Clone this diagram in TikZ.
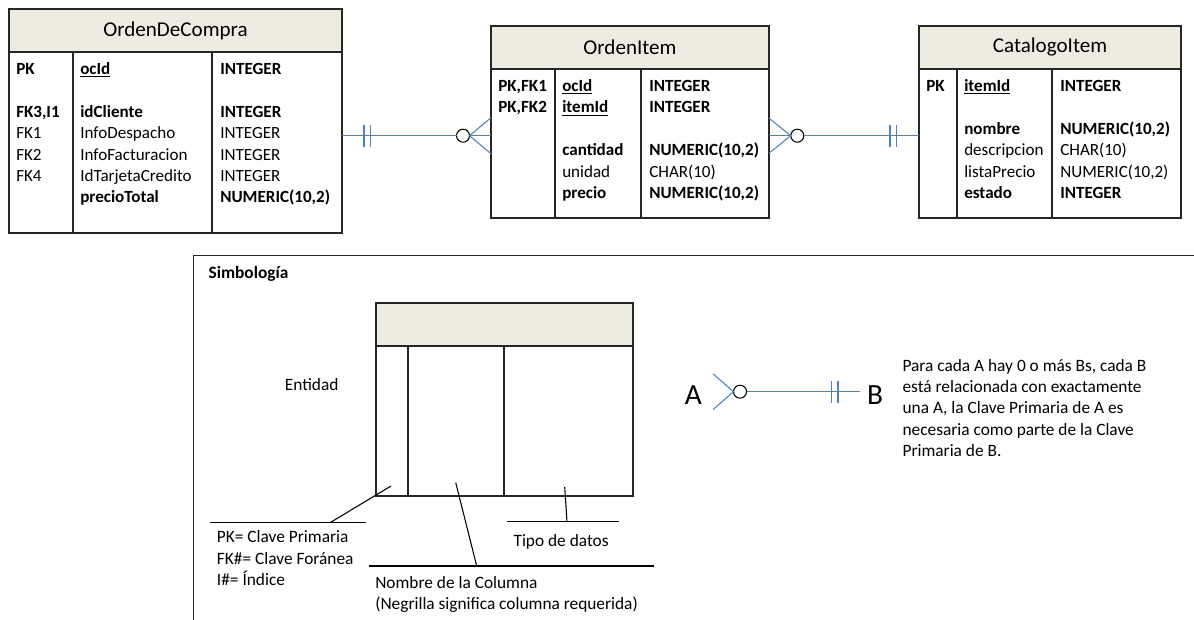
\documentclass[tikz,border=0pt]{standalone}
\usepackage{fontspec}
\setmainfont{Carlito}
\usetikzlibrary{calc}
\definecolor{headfill}{HTML}{EEECE1}
\definecolor{relblue}{HTML}{4F81BD}
\definecolor{framegray}{HTML}{262626}
\newcommand{\px}{0.75pt}
\tikzset{
  tablehead/.style={draw=framegray, line width=1pt, fill=headfill, anchor=north west,
    outer sep=0pt, inner sep=0pt, font=\fontsize{15.8}{19}\selectfont},
  tablecol/.style={draw=framegray, line width=1pt, anchor=north west, outer sep=0pt, inner sep=0pt},
  cell/.style={anchor=base west, inner sep=0pt, font=\fontsize{12.8}{16}\selectfont},
  rel/.style={draw=relblue, line width=0.8pt},
  optcircle/.style={circle, draw=black, line width=0.8pt, fill=white, minimum size=13*\px,
    inner sep=0pt, outer sep=0pt},
  note/.style={anchor=base west, inner sep=0pt, align=left, font=\fontsize{13}{16}\selectfont},
  letter/.style={font=\fontsize{22}{26}\selectfont, inner ysep=0pt, outer sep=0pt},
  lead/.style={draw=black, line width=0.8pt},
  frameline/.style={draw=framegray, line width=1pt},
}
% header box plus key / name / type columns
\newcommand{\erTable}[8]{%
  \node[tablehead, minimum width={(#4+#5+#6)*\px}, minimum height=43*\px] (#1Head) at (#2,#3) {#8};
  \node[tablecol, minimum width=#4*\px, minimum height=#7*\px] (#1Key) at (#1Head.south west) {};
  \node[tablecol, minimum width=#5*\px, minimum height=#7*\px] (#1Name) at (#1Key.north east) {};
  \node[tablecol, minimum width=#6*\px, minimum height=#7*\px] (#1Type) at (#1Name.north east) {};
}
\newcommand{\erRows}[2]{%
  \foreach \r/\ky/\nm/\ty in {#2}{
    \node[cell] (#1K\r) at ($(#1Key.north west)+(7,22.5+21.4*\r-21.4)$) {\ky};
    \node[cell] (#1N\r) at ($(#1Name.north west)+(7,22.5+21.4*\r-21.4)$) {\nm};
    \node[cell] (#1T\r) at ($(#1Type.north west)+(8,22.5+21.4*\r-21.4)$) {\ty};
  }}
% two bars = exactly one
\newcommand{\barpair}[3]{%
  \draw[rel] ($#1+(#2,-11)$) -- ++(0,22) ($#1+(#3,-11)$) -- ++(0,22);}
% three toes meeting at a point
\newcommand{\crowfoot}[3]{%
  \draw[rel] ($#2+(0,-#3)$) -- #1 -- ($#2+(0,#3)$);}

\begin{document}
\begin{tikzpicture}[x=0.75pt, y=-0.75pt]
  \useasboundingbox (0,0) rectangle (1194,620);

  % entities
  \erTable{oc}{9}{9}{64}{139}{130}{181}{OrdenDeCompra}
  \erRows{oc}{1/\textbf{PK}/\textbf{\underline{ocId}}/\textbf{INTEGER},
    3/\textbf{FK3,I1}/\textbf{idCliente}/\textbf{INTEGER},
    4/FK1/InfoDespacho/INTEGER,
    5/FK2/InfoFacturacion/INTEGER,
    6/FK4/IdTarjetaCredito/INTEGER,
    7//\textbf{precioTotal}/\textbf{NUMERIC(10,2)}}

  \erTable{oi}{491}{26}{64}{86}{128}{149}{OrdenItem}
  \erRows{oi}{1/\textbf{PK,FK1}/\textbf{\underline{ocId}}/\textbf{INTEGER},
    2/\textbf{PK,FK2}/\textbf{\underline{itemId}}/\textbf{INTEGER},
    4//\textbf{cantidad}/\textbf{NUMERIC(10,2)},
    5//unidad/CHAR(10),
    6//\textbf{precio}/\textbf{NUMERIC(10,2)}}

  \erTable{ci}{919}{26}{38}{95}{129}{149}{CatalogoItem}
  \erRows{ci}{1/\textbf{PK}/\textbf{\underline{itemId}}/\textbf{INTEGER},
    3//\textbf{nombre}/\textbf{NUMERIC(10,2)},
    4//descripcion/CHAR(10),
    5//listaPrecio/{NUMERIC(10,2)},
    6//\textbf{estado}/\textbf{INTEGER}}

  % relationships
  \coordinate (r1) at (0,135.7);
  \node[optcircle] (o1) at (463,135.7) {};
  \draw[rel] (ocType.east |- r1) -- (o1.west);
  \draw[rel] (o1.east) -- (oiKey.west |- r1);
  \crowfoot{(o1.east)}{(oiKey.west |- r1)}{18}
  \barpair{(ocType.east |- r1)}{22}{28.5}

  \coordinate (r2) at (0,135.7);
  \node[optcircle] (o2) at (797.3,135.7) {};
  \draw[rel] (oiType.east |- r2) -- (o2.west);
  \draw[rel] (o2.east) -- (ciKey.west |- r2);
  \crowfoot{(o2.west)}{(oiType.east |- r2)}{17.5}
  \barpair{(ciKey.west |- r2)}{-29}{-22.3}

  % legend
  \draw[frameline] (193.3,625) -- (193.3,255.7) -- (1200,255.7);
  \node[note] (lgTitle) at (208.3,278.5) {\textbf{Simbología}};

  \erTable{lg}{376}{303}{32}{96}{129}{150}{}
  \node[note, anchor=center] (lgEnt) at (311.7,384.3) {Entidad};

  % multi-line notes sit on their last baseline
  \node[note] (lgKeys) at (216.7,585.4) {PK= Clave Primaria\\FK\#= Clave Foránea\\I\#= Índice};
  \node[note] (lgDataType) at (513.3,546.4) {Tipo de datos};
  \node[note] (lgColName) at (375,609.4) {Nombre de la Columna\\(Negrilla significa columna requerida)};

  \coordinate (pkRule) at (330,522.7);
  \coordinate (colRule) at (476.7,566);
  \coordinate (typeRule) at (567,521.7);
  \draw[lead] (210,522.7) -- (366,522.7);
  \draw[lead] (369,566) -- (654,566);
  \draw[lead] (507.3,521.7) -- (619.3,521.7);
  \draw[lead] ($(lgKey.south west)+(15,-10)$) -- (pkRule);
  \draw[lead] ($(lgName.south west)+(47.7,-13.4)$) -- (colRule);
  \draw[lead] ($(lgType.south west)+(60.7,-9)$) -- (typeRule);

  \node[letter, inner xsep=8.5pt] (lgA) at (693.3,395) {A};
  \node[letter, inner xsep=5.5pt] (lgB) at (875,395) {B};
  \node[optcircle] (o3) at (740,391.7) {};
  \crowfoot{(o3.west)}{(lgA.east |- o3)}{17.8}
  \draw[rel] (o3.east) -- (lgB.west |- o3);
  \barpair{(lgB.west |- o3)}{-28.3}{-21.7}

  \node[note] (lgText) at (902.3,456.4) {Para cada A hay 0 o más Bs, cada B\\está relacionada con exactamente\\una A, la Clave Primaria de A es\\necesaria como parte de la Clave\\Primaria de B.};
\end{tikzpicture}
\end{document}
